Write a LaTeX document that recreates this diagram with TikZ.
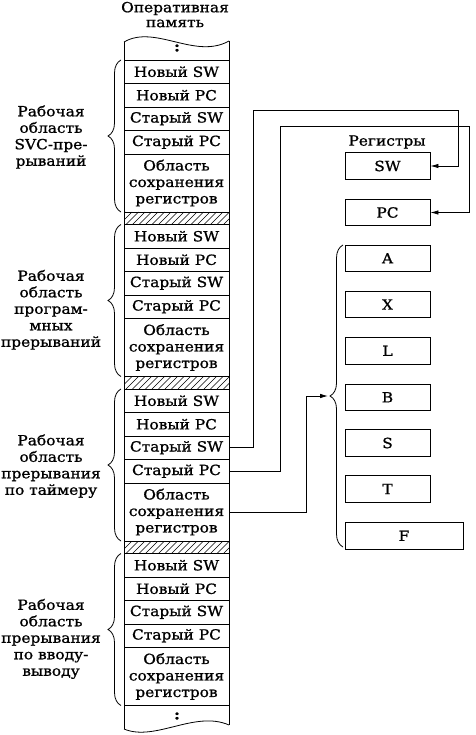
\documentclass[tikz,border=0pt]{standalone}
\usepackage{fontspec}
\setmainfont{DejaVu Serif}[FakeStretch=1.1,FakeBold=1]
\usetikzlibrary{decorations.pathreplacing,arrows.meta,calc}
\begin{document}
\begin{tikzpicture}[x=1pt,y=-1pt, line width=0.8pt,
  every node/.style={font=\fontsize{14}{16.5}\selectfont},
  cell/.style={draw, minimum width=105pt, minimum height=23.5pt, inner sep=0pt, align=center},
  area/.style={cell, minimum height=58pt},
  reg/.style={draw, minimum width=85pt, minimum height=26.5pt, inner sep=0pt},
  lbl/.style={align=center, anchor=north, inner sep=0pt},
  brc/.style={decorate, decoration={brace, amplitude=13pt}},
  conn/.style={-{Latex[length=8pt,width=4.5pt]}},
]
\useasboundingbox (0,0) rectangle (475,735);

% header
\node (hdr1) at (175,8.5) {Оперативная};
\node (hdr2) at (175,23.5) {память};

% column outline
\draw (124,42) -- (124,729);
\draw (229,41) -- (229,725);
\draw (124,42) .. controls (155,24) and (195,60) .. (229,41);
\draw (124,729) .. controls (155,742) and (195,710) .. (229,725);
\node[font=\fontsize{14}{16}\bfseries] (dtop) at (177,48) {:};
\node[font=\fontsize{14}{16}\bfseries] (dbot) at (177,716) {:};

% memory blocks
\foreach \b/\T in {1/60, 2/224.5, 3/389, 4/553.5}{
  \node[cell] (c\b-1) at (176.5,\T+11.75) {Новый SW};
  \node[cell] (c\b-2) at (176.5,\T+35.25) {Новый PC};
  \node[cell] (c\b-3) at (176.5,\T+58.75) {Старый SW};
  \node[cell] (c\b-4) at (176.5,\T+82.25) {Старый PC};
  \node[area] (c\b-5) at (176.5,\T+123) {Область\\сохранения\\регистров};
  \draw[brc] (121,\T+152) -- (121,\T);
}
% hatched separators
\foreach \T in {212, 376.5, 541}{
  \begin{scope}
    \clip (124,\T) rectangle (229,\T+12.5);
    \foreach \x in {100,106.5,...,245}{
      \draw[line width=0.6pt] (\x,\T+12.5) -- (\x+12.5,\T);
    }
  \end{scope}
  \draw (124,\T) rectangle (229,\T+12.5);
}

% labels
\node[lbl] (l1) at (51,105) {Рабочая\\область\\SVC-пре-\\рываний};
\node[lbl] (l2) at (51,269.5) {Рабочая\\область\\програм-\\мных\\прерываний};
\node[lbl] (l3) at (51,434) {Рабочая\\область\\прерывания\\по таймеру};
\node[lbl] (l4) at (51,598.5) {Рабочая\\область\\прерывания\\по вводу-\\выводу};

% registers
\node (rtitle) at (387,142) {Регистры};
\node[reg] (sw) at (387.5,166) {SW};
\node[reg] (pc) at (387.5,212.5) {PC};
\node[reg] (ra) at (387.5,258.3) {A};
\node[reg] (rx) at (387.5,304.5) {X};
\node[reg] (rl) at (387.5,350.8) {L};
\node[reg] (rb) at (387.5,397.3) {B};
\node[reg] (rs) at (387.5,443) {S};
\node[reg] (rt) at (387.5,489) {T};
\node[reg, minimum width=118pt] (rf) at (404,535.8) {F};
\draw[brc] (343,547) -- (343,245);
\coordinate (rtip) at (328,396);

% connectors
\draw[conn] (c3-3.east) -| (253,110) -| ([xshift=28pt]sw.east) -- (sw.east);
\draw[conn] (c3-4.east) -| (280,126.7) -| ([xshift=39pt]pc.east) -- (pc.east);
\draw[conn] (c3-5.east) -| (306,396) -- (rtip);
\end{tikzpicture}
\end{document}
